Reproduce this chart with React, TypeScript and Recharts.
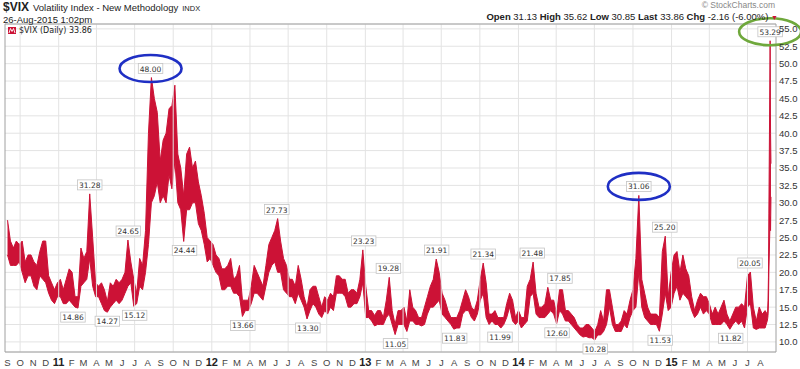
import React from "react";
import {
  ComposedChart, Area, XAxis, YAxis, CartesianGrid, ReferenceLine, ReferenceDot,
} from "recharts";

const RED = "#cc1236";
const GRID = "#e3e3e3";
const AXIS = "#a0a0a0";
const FONT = "'Liberation Sans', Arial, sans-serif";
const SMALL = "'DejaVu Sans', Verdana, sans-serif";

const ORIGIN = Date.UTC(2010, 8, 1); // 1-Sep-2010 (a Wednesday)
const dayNum = (iso: string) => Math.round((Date.parse(iso + "T00:00:00Z") - ORIGIN) / 86400000);

// weekly [low, high], one pair per week, Wednesdays from 1-Sep-2010
const wk2010: [number, number][] = [
  [22.5, 27.5], [21, 24.5], [21, 23.5], [21, 24.5], [21.5, 24],
  [20, 24.5], [18.5, 21.5], [19.5, 22.5], [19.5, 22.5],
  [18, 21.5], [17.5, 21], [19.5, 23], [19, 24.5],
  [18.5, 24.5], [17, 19.5], [16, 18.5], [15.5, 17.5], [16.5, 18.5],
];
const wk2011: [number, number][] = [
  [16.5, 19], [15.5, 17.5], [15.5, 19], [16, 20.5],
  [15.5, 20], [15, 16.5], [14.86, 16.5], [18, 23.5],
  [18.5, 22], [19, 23], [22, 31.28], [18, 25], [16.5, 18.5],
  [16.5, 18], [15.5, 18.5], [14.5, 17.5], [14.27, 15.8],
  [15, 18.5], [15.5, 18], [16, 19], [15.5, 18.5],
  [16, 19], [17, 20], [18, 24.65], [18.5, 21.5], [15.12, 19],
  [15.5, 17], [18, 22], [17.5, 21], [20, 26],
  [24, 40], [30, 48], [31, 45], [33, 43], [30, 36],
  [31, 39], [30, 40], [34, 43.5], [32, 44],
  [36, 46.9], [30, 37], [29, 35], [24.44, 31],
  [29, 37], [29, 38], [30, 35], [30, 36], [27, 33],
  [26, 31], [24, 28.5], [21.5, 25], [22, 24.5],
];
const wk2012: [number, number][] = [
  [21, 24], [20, 22.5], [19.5, 22], [17.5, 20.5],
  [17.5, 20.5], [18, 21], [18, 22], [17, 19], [17, 19.5],
  [16.5, 21], [13.66, 16], [14.5, 16], [14.5, 16],
  [15.5, 18], [17, 21], [17, 20], [16.5, 19],
  [16, 18], [18, 21], [20, 24], [21, 25], [21.5, 26],
  [20, 27.73], [20, 24.5], [17.5, 22], [17, 21],
  [16.5, 19], [16.5, 19], [15.5, 18], [17, 21],
  [16, 19], [15, 16.5], [13.3, 15], [14.5, 17.5], [15.5, 18],
  [15, 18], [14, 16.5], [13.5, 15], [14.5, 16.5],
  [14, 16], [15, 17], [14.5, 16.5], [17, 19.5], [17, 19.5],
  [17, 19], [16.5, 19], [15, 17], [15, 17.5],
  [15.5, 17.5], [15.5, 17], [16.5, 19], [18.5, 23.23],
];
const wk2013: [number, number][] = [
  [13.5, 18], [13.5, 14.5], [13, 14.5], [12.3, 13.8], [12.5, 14.5],
  [12.5, 14.5], [12.5, 13.5], [13.5, 16], [14, 19.28],
  [12.5, 14.5], [11.05, 12.5], [12.5, 14.5], [12.5, 14.5],
  [12.5, 15], [11.5, 13], [13, 17.5], [13, 15],
  [12.5, 14.5], [12.5, 13.5], [12.3, 13.5], [12.5, 15], [14, 16.5],
  [15, 18], [15, 19], [15.5, 21.91], [16, 20],
  [14, 17], [13.5, 16], [13, 14.5], [12.5, 13.5], [11.83, 13.5],
  [12, 13.5], [12, 14.5], [14, 16], [14.5, 17.5],
  [14.5, 16.5], [13.5, 15], [13, 14.5], [14, 16],
  [16, 19], [17, 21.34], [13.5, 18.5], [12.5, 14], [13, 14],
  [12.5, 14.5], [12.5, 13.5], [11.99, 13.5], [12.5, 13.5],
  [13.5, 15.5], [15, 17], [13, 16], [12.5, 13.5],
];
const wk2014: [number, number][] = [
  [13, 14.5], [12, 13.5], [12.5, 13.5], [13, 18], [16.5, 19],
  [17, 21.48], [14, 17], [13.5, 15], [13.5, 15],
  [13.5, 15.5], [14, 17.85], [14.5, 16], [14, 16],
  [12.6, 14], [14.5, 17.5], [14, 17.5], [13, 14.5], [13, 14.5],
  [12.5, 14], [12, 13.5], [11.5, 12.5], [11, 12],
  [10.7, 12], [10.8, 12.5], [10.6, 12.5], [10.6, 12],
  [10.28, 11.5], [11, 12.5], [11, 14.5], [11.5, 13], [12.5, 17.5],
  [15, 17.5], [12.5, 15], [11.5, 12.5], [11.5, 12.5],
  [11.5, 13], [12.5, 14.5], [12, 14], [13.5, 16],
  [14.5, 17.5], [15, 22], [20, 31.06], [15, 19], [13.5, 17],
  [13, 15], [12.5, 14], [12.5, 14], [12.5, 14],
  [11.53, 13.5], [14, 23], [17, 25.2], [14.5, 16.5], [15, 20],
];
const wk2015: [number, number][] = [
  [17, 22.5], [18, 23], [16, 20], [17, 22.5],
  [16.5, 20.5], [16, 19.5], [14.5, 16.5], [13.5, 14.5],
  [14, 16], [15, 17], [14, 16.5], [14.5, 16.5],
  [14, 15.5], [12.5, 14], [12.5, 15], [12.5, 14], [12.5, 15],
  [13, 16], [12.5, 14], [11.82, 13], [12.5, 14],
  [13, 15], [12.5, 15], [13, 15.5], [12, 15],
  [15, 19.5], [15.5, 20.05], [12, 15], [11.8, 13], [12, 15],
  [12, 14], [12, 14.5],
];

// last days, daily
const augDays = ["2015-08-17", "2015-08-18", "2015-08-19", "2015-08-20", "2015-08-21", "2015-08-24", "2015-08-25", "2015-08-26"];
const augLow = [13, 13.3, 13.8, 15.6, 20, 28, 26, 30.85];
const augHigh = [14, 14.1, 16, 19.3, 28.4, 53.29, 40, 35.62];

const callouts: { d: string; v: number; up: boolean; ring?: string }[] = [
  { d: "2011-02-04", v: 14.86, up: false },
  { d: "2011-03-16", v: 31.28, up: true },
  { d: "2011-04-27", v: 14.27, up: false },
  { d: "2011-06-16", v: 24.65, up: true },
  { d: "2011-07-01", v: 15.12, up: false },
  { d: "2011-08-08", v: 48.0, up: true, ring: "#1f2fc4" },
  { d: "2011-10-28", v: 24.44, up: false },
  { d: "2012-03-15", v: 13.66, up: false },
  { d: "2012-06-04", v: 27.73, up: true },
  { d: "2012-08-17", v: 13.3, up: false },
  { d: "2012-12-28", v: 23.23, up: true },
  { d: "2013-02-25", v: 19.28, up: true },
  { d: "2013-03-14", v: 11.05, up: false },
  { d: "2013-06-20", v: 21.91, up: true },
  { d: "2013-08-02", v: 11.83, up: false },
  { d: "2013-10-09", v: 21.34, up: true },
  { d: "2013-11-18", v: 11.99, up: false },
  { d: "2014-02-03", v: 21.48, up: true },
  { d: "2014-04-03", v: 12.6, up: false },
  { d: "2014-04-10", v: 17.85, up: true },
  { d: "2014-07-03", v: 10.28, up: false },
  { d: "2014-10-15", v: 31.06, up: true, ring: "#1f2fc4" },
  { d: "2014-12-05", v: 11.53, up: false },
  { d: "2014-12-16", v: 25.2, up: true },
  { d: "2015-05-22", v: 11.82, up: false },
  { d: "2015-07-07", v: 20.05, up: true },
  { d: "2015-08-24", v: 53.29, up: true, ring: "#6fa83c" },
];

const monthLetters = ["J", "F", "M", "A", "M", "J", "J", "A", "S", "O", "N", "D"];
const yTicks = [10, 12.5, 15, 17.5, 20, 22.5, 25, 27.5, 30, 32.5, 35, 37.5, 40, 42.5, 45, 47.5, 50, 52.5, 55];

const weekly = [...wk2010, ...wk2011, ...wk2012, ...wk2013, ...wk2014, ...wk2015];
const data = [
  ...weekly.map(([lo, hi], i) => ({ t: i * 7, range: [lo, hi] })),
  ...augDays.map((d, i) => ({ t: dayNum(d), range: [augLow[i], augHigh[i]] })),
];

// month starts Sep-2010 .. Aug-2015
const months: { t: number; label: string; year: boolean; quarter: boolean }[] = [];
for (let k = 0; k < 60; k++) {
  const m = (8 + k) % 12;
  const y = 2010 + Math.floor((8 + k) / 12);
  months.push({
    t: Math.round((Date.UTC(y, m, 1) - ORIGIN) / 86400000),
    label: m === 0 ? String(y).slice(2) : monthLetters[m],
    year: m === 0,
    quarter: m % 3 === 0,
  });
}

const MonthTick = (props: any) => {
  const { x, y, payload } = props;
  const m = months.find((mm) => mm.t === payload.value);
  if (!m) return null;
  return (
    <text
      x={x} y={y} dy={14} textAnchor="middle"
      fontFamily={FONT} fontSize={m.year ? 11 : 9.5} fontWeight={m.year ? 700 : 400}
      fill={m.year ? "#222" : "#444"}
    >
      {m.label}
    </text>
  );
};

const Callout = (props: any) => {
  const { cx, cy, text, up, ring } = props;
  if (cx == null || cy == null) return null;
  const w = text.length * 4.3 + 3;
  const h = 10;
  const by = up ? cy - 4 - h : cy + 4;
  const mid = by + h / 2;
  return (
    <g>
      <rect x={cx - w / 2} y={by} width={w} height={h} fill="#fff" stroke="#c4c4c4" strokeWidth={0.8} />
      <text x={cx} y={mid + 3} textAnchor="middle" fontSize={7.5} fontFamily={SMALL} fill="#333">
        {text}
      </text>
      {ring && <ellipse cx={cx} cy={mid} rx={31} ry={13.5} fill="none" stroke={ring} strokeWidth={2.6} />}
    </g>
  );
};

export default function App() {
  return (
    <div style={{ position: "absolute", left: 0, top: 0, width: 800, height: 369, background: "#fff", fontFamily: FONT }}>
      <ComposedChart width={800} height={369} data={data} margin={{ top: 24, right: 0, bottom: 0, left: 5 }}>
        <CartesianGrid vertical={false} stroke={GRID} />
        {months.filter((m) => m.quarter).map((m) => (
          <ReferenceLine key={m.t} x={m.t} stroke={GRID} />
        ))}
        <ReferenceLine x={-6} stroke={AXIS} />
        <ReferenceLine y={55.7} stroke={AXIS} />
        <XAxis
          type="number" dataKey="t" domain={[-6, 1832]} allowDataOverflow
          ticks={months.map((m) => m.t)} interval={0} tick={<MonthTick />}
          tickLine={false} tickSize={0} tickMargin={0} height={17}
          axisLine={{ stroke: AXIS }}
        />
        <YAxis
          orientation="right" type="number" domain={[8.55, 55.7]} allowDataOverflow
          ticks={yTicks} interval={0} width={24}
          tickFormatter={(v: number) => v.toFixed(1)}
          tick={{ fontSize: 9.5, fill: "#333", fontFamily: FONT }}
          tickLine={false} tickSize={0} tickMargin={3}
          axisLine={{ stroke: AXIS }}
        />
        <Area
          type="linear" dataKey="range" stroke={RED} strokeWidth={1}
          fill={RED} fillOpacity={1} isAnimationActive={false} dot={false} activeDot={false}
        />
        {callouts.map((c) => (
          <ReferenceDot
            key={c.d} x={dayNum(c.d)} y={c.v} ifOverflow="visible"
            shape={(p: any) => <Callout {...p} text={c.v.toFixed(2)} up={c.up} ring={c.ring} />}
          />
        ))}
      </ComposedChart>

      <div style={{ position: "absolute", left: 3, top: -1, lineHeight: "13px", color: "#222", whiteSpace: "nowrap" }}>
        <span style={{ fontWeight: 700, fontSize: 12 }}>$VIX</span>
        <span style={{ fontSize: 9.5, marginLeft: 4 }}>Volatility Index - New Methodology</span>
        <span style={{ fontSize: 7.5, marginLeft: 4 }}>INDX</span>
      </div>
      <div style={{ position: "absolute", left: 3, top: 14, fontSize: 9.5, lineHeight: "11px", color: "#222" }}>
        26-Aug-2015 1:02pm
      </div>
      <div style={{ position: "absolute", right: 25, top: 1, fontSize: 8.5, lineHeight: "9px", color: "#888" }}>
        © StockCharts.com
      </div>
      <div style={{ position: "absolute", right: 22, top: 12, fontSize: 9.5, lineHeight: "10px", color: "#222", whiteSpace: "nowrap" }}>
        <b>Open</b> 31.13 <b>High</b> 35.62 <b>Low</b> 30.85 <b>Last</b> 33.86 <b>Chg</b> -2.16 (-6.00%) <span style={{ color: RED, fontSize: 7 }}>▼</span>
      </div>
      <div style={{ position: "absolute", left: 8, top: 26, display: "flex", alignItems: "center", fontFamily: SMALL, fontSize: 8, color: "#222" }}>
        <svg width={8} height={7} style={{ marginRight: 3 }}>
          <rect x={0} y={0} width={8} height={7} fill={RED} />
          <polyline points="1,6 2.5,1.5 4,4.5 5.5,1.5 7,6" fill="none" stroke="#fff" strokeWidth={0.9} />
        </svg>
        $VIX (Daily) 33.86
      </div>
    </div>
  );
}
